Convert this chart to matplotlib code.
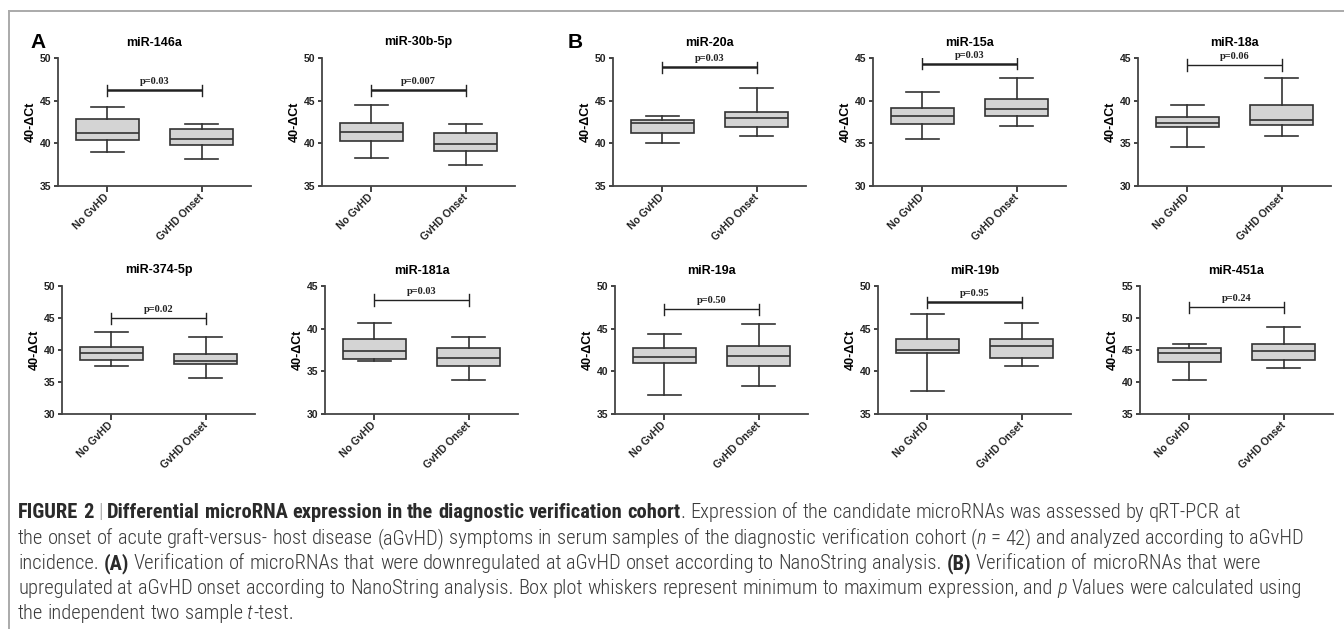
import re

import matplotlib
matplotlib.use("Agg")
import matplotlib.pyplot as plt
from matplotlib import font_manager
from matplotlib.lines import Line2D
from matplotlib.transforms import IdentityTransform

W, H = 1344, 629

# ---- data ----
MIRNAS = ["miR-146a", "miR-30b-5p", "miR-20a", "miR-15a", "miR-18a",
          "miR-374-5p", "miR-181a", "miR-19a", "miR-19b", "miR-451a"]
GROUPS = ["No GvHD", "GvHD Onset"]

# No GvHD: min, Q1, median, Q3, max
NO_MIN = [38.97, 38.26, 40.07, 35.50, 34.60, 37.55, 36.17, 37.19, 37.73, 40.36]
NO_Q1 = [40.42, 40.30, 41.20, 37.27, 36.95, 38.49, 36.48, 40.98, 42.10, 43.13]
NO_MED = [41.20, 41.32, 42.34, 38.17, 37.34, 39.53, 37.34, 41.64, 42.50, 44.48]
NO_Q3 = [42.85, 42.42, 42.74, 39.19, 38.05, 40.52, 38.75, 42.70, 43.75, 45.26]
NO_MAX = [44.27, 44.50, 43.17, 41.00, 39.50, 42.86, 40.66, 44.37, 46.72, 45.99]

# GvHD onset
ON_MIN = [38.14, 37.47, 40.81, 37.07, 35.90, 35.68, 34.02, 38.32, 40.59, 42.14]
ON_Q1 = [39.80, 39.16, 41.87, 38.17, 37.10, 37.76, 35.59, 40.66, 41.60, 43.39]
ON_MED = [40.50, 39.87, 42.93, 38.99, 37.74, 38.23, 36.60, 41.84, 42.93, 44.90]
ON_Q3 = [41.64, 41.20, 43.72, 40.21, 39.50, 39.43, 37.70, 43.00, 43.75, 45.94]
ON_MAX = [42.27, 42.27, 46.43, 42.64, 42.64, 42.03, 39.02, 45.55, 45.66, 48.54]

P_VALUES = ["p=0.03", "p=0.007", "p=0.03", "p=0.03", "p=0.06",
            "p=0.02", "p=0.03", "p=0.50", "p=0.95", "p=0.24"]
BRACKET_Y = [46.2, 46.2, 48.9, 44.33, 44.18, 44.95, 43.36, 47.27, 48.09, 51.67]
Y_MIN = [35, 35, 35, 30, 30, 30, 30, 35, 35, 35]
Y_MAX = [50, 50, 50, 45, 45, 50, 45, 50, 50, 55]

CAPTION = [
    [("FIGURE 2", "b"), (" ", "n"), ("|", "bar"), (" ", "n"),
     ("Differential microRNA expression in the diagnostic verification cohort", "b"),
     (". Expression of the candidate microRNAs was assessed by qRT-PCR at", "n")],
    [("the onset of acute graft-versus- host disease (aGvHD) symptoms in serum samples "
      "of the diagnostic verification cohort (", "n"), ("n", "i"),
     (" = 42) and analyzed according to aGvHD", "n")],
    [("incidence. ", "n"), ("(A)", "b"),
     (" Verification of microRNAs that were downregulated at aGvHD onset according to "
      "NanoString analysis. ", "n"), ("(B)", "b"),
     (" Verification of microRNAs that were", "n")],
    [("upregulated at aGvHD onset according to NanoString analysis. Box plot whiskers "
      "represent minimum to maximum expression, and ", "n"), ("p", "i"),
     (" Values were calculated using", "n")],
    [("the independent two sample ", "n"), ("t", "i"), ("-test.", "n")],
]

# ---- layout (pixels) ----
AX_LEFT = [58, 322, 613, 873, 1138, 62, 325, 615, 878, 1140]
AX_TOP = [58] * 5 + [286] * 5
AX_W, AX_H = 193, 128
BRACKET_LW = [1.8, 1.8, 1.8, 1.8, 1.0, 1.0, 1.0, 1.0, 1.8, 1.0]
CAP_LINE_ENDS = [1314, 1332, 1137, 1322]   # right ends of the first four caption lines
CAP_LEFT = 18
CAP_BASELINES = [518, 544, 569, 594, 619]


def pick_font(names):
    for n in names:
        try:
            font_manager.findfont(font_manager.FontProperties(family=n),
                                  fallback_to_default=False)
            return n
        except ValueError:
            continue
    return "DejaVu Sans"


PLOT_FONT = pick_font(["Liberation Sans", "Arial"])
CAP_FONT = pick_font(["Roboto Condensed", "Liberation Sans Narrow", "Liberation Sans"])
P_FONT = pick_font(["Liberation Serif", "DejaVu Serif"])

plt.rcParams["font.family"] = [PLOT_FONT, "DejaVu Sans"]
plt.rcParams["font.weight"] = "bold"

EDGE = "#333333"
FILL = "#d4d4d4"

fig = plt.figure(figsize=(W / 100, H / 100), dpi=100)

for i, name in enumerate(MIRNAS):
    ax = fig.add_axes([AX_LEFT[i] / W, 1 - (AX_TOP[i] + AX_H) / H, AX_W / W, AX_H / H])
    stats = [
        dict(whislo=NO_MIN[i], q1=NO_Q1[i], med=NO_MED[i], q3=NO_Q3[i], whishi=NO_MAX[i]),
        dict(whislo=ON_MIN[i], q1=ON_Q1[i], med=ON_MED[i], q3=ON_Q3[i], whishi=ON_MAX[i]),
    ]
    ax.bxp(stats, positions=[0, 1], widths=0.67, showfliers=False, patch_artist=True,
           boxprops=dict(facecolor=FILL, edgecolor=EDGE, linewidth=1.2),
           medianprops=dict(color=EDGE, linewidth=1.2),
           whiskerprops=dict(color=EDGE, linewidth=1.2),
           capprops=dict(color=EDGE, linewidth=1.2), capwidths=0.35)

    ymin, ymax = Y_MIN[i], Y_MAX[i]
    ax.set_ylim(ymin, ymax)
    ax.set_xlim(-0.52, 1.52)
    ax.set_yticks(range(ymin, ymax + 1, 5))
    ax.set_xticks([0, 1])
    ax.set_xticklabels(GROUPS, rotation=45, ha="right", va="center",
                       rotation_mode="anchor", fontsize=7.5, fontweight="bold")
    for lab in ax.get_yticklabels():
        lab.set_fontweight("bold")
    ax.tick_params(axis="y", direction="out", length=3, width=1.2, labelsize=7.5,
                   pad=2, colors="#222222")
    ax.tick_params(axis="x", direction="out", length=4, width=1.2, pad=3,
                   colors="#222222")
    for side in ("top", "right"):
        ax.spines[side].set_visible(False)
    for side in ("left", "bottom"):
        ax.spines[side].set_linewidth(1.3)
        ax.spines[side].set_color("#444444")
    ax.set_ylabel("40-ΔCt", fontsize=9, fontweight="bold", labelpad=2)
    ax.set_title(name, fontsize=9, fontweight="bold", pad=9)

    # significance bracket
    by = BRACKET_Y[i]
    cap = (ymax - ymin) * 0.045
    ax.plot([0, 1], [by, by], color="#222222", lw=BRACKET_LW[i], solid_capstyle="butt")
    for xc in (0, 1):
        ax.plot([xc, xc], [by - cap, by + cap], color="#222222", lw=1.0)
    ax.annotate(P_VALUES[i], xy=(0.5, by), xytext=(0, 3), textcoords="offset points",
                ha="center", va="bottom", fontsize=7.5, fontweight="bold",
                family=[P_FONT, "DejaVu Serif"], color="#222222")

# panel letters
fig.text(38 / W, 1 - 43 / H, "A", fontsize=15, fontweight="bold", ha="center", va="center")
fig.text(575 / W, 1 - 43 / H, "B", fontsize=15, fontweight="bold", ha="center", va="center")

# frame around the figure (top and left only)
fig.add_artist(Line2D([9 / W, 1.0], [1 - 11 / H, 1 - 11 / H], color="#aaaaaa", lw=1.4))
fig.add_artist(Line2D([9 / W, 9 / W], [1 - 11 / H, 0.0], color="#aaaaaa", lw=1.4))

# ---- caption, drawn word by word so bold/italic can be mixed ----
STYLES = {
    "n": dict(fontweight="light", fontstyle="normal", color="#3a3a3a"),
    "b": dict(fontweight="bold", fontstyle="normal", color="#2a2a2a"),
    "i": dict(fontweight="light", fontstyle="italic", color="#3a3a3a"),
    "bar": dict(fontweight="light", fontstyle="normal", color="#9a9a9a"),
}
renderer = fig.canvas.get_renderer()
_cache = {}


def text_width(s, style, size):
    key = (s, style, size)
    if key not in _cache:
        t = fig.text(0, 0, s, transform=IdentityTransform(), fontsize=size,
                     family=[CAP_FONT, "DejaVu Sans"], **STYLES[style])
        _cache[key] = t.get_window_extent(renderer).width
        t.remove()
    return _cache[key]


def advance(piece, style, size):
    return text_width("x" + piece + "x", style, size) - text_width("xx", style, size)


def line_width(line, size):
    return sum(advance(p, st, size) for seg, st in line
               for p in re.split(r"( +)", seg) if p)


probe = 10.0
measured = sum(line_width(CAPTION[k], probe) for k in range(4))
target = sum(e - CAP_LEFT for e in CAP_LINE_ENDS)
cap_size = probe * target / measured

for line, yb in zip(CAPTION, CAP_BASELINES):
    x = float(CAP_LEFT)
    for seg, st in line:
        for piece in re.split(r"( +)", seg):
            if not piece:
                continue
            if not piece.isspace():
                fig.text(x, H - yb, piece, transform=IdentityTransform(),
                         fontsize=cap_size, family=[CAP_FONT, "DejaVu Sans"],
                         ha="left", va="baseline", **STYLES[st])
            x += advance(piece, st, cap_size)

fig.savefig("out.png", dpi=100)
